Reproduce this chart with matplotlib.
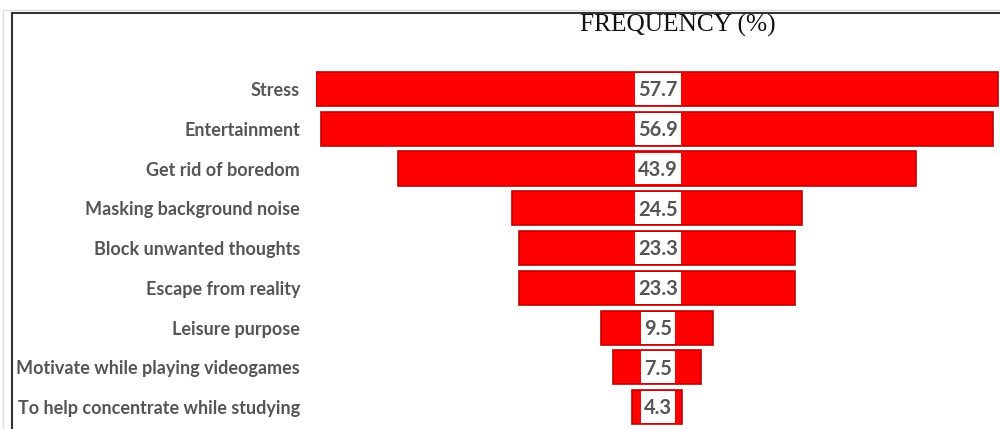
import matplotlib.pyplot as plt
from matplotlib.patches import Rectangle
from matplotlib.lines import Line2D

reasons = ["Stress", "Entertainment", "Get rid of boredom", "Masking background noise",
           "Block unwanted thoughts", "Escape from reality", "Leisure purpose",
           "Motivate while playing videogames", "To help concentrate while studying"]
freq = [57.7, 56.9, 43.9, 24.5, 23.3, 23.3, 9.5, 7.5, 4.3]

fig = plt.figure(figsize=(10, 4.29), dpi=100)
ax = fig.add_axes([0.316, 0, 0.684, 1])

ypos = list(range(len(freq)))
bar_h = 0.86
# funnel: each bar centred on zero
ax.barh(ypos, freq, left=[-v / 2 for v in freq], height=bar_h,
        color="#ff0000", edgecolor="#c00000", linewidth=1.2, zorder=2)

ax.set_xlim(-28.85, 29.02)
ax.set_ylim(8.55, -2.24)

ax.set_yticks(ypos)
ax.set_yticklabels(reasons, fontsize=13, fontweight="bold", color="#555555", family="Lato")
ax.tick_params(axis="y", length=0, pad=11.5)
ax.set_xticks([])
for s in ax.spines.values():
    s.set_visible(False)

# value labels sitting in a white strip across the bar
texts = []
for y, v in zip(ypos, freq):
    t = ax.text(0.1, y + 0.03, f"{v:.1f}", ha="center", va="center", fontsize=14.5,
                fontweight="bold", color="#555555", family="Lato", zorder=4)
    texts.append(t)
fig.canvas.draw()
r = fig.canvas.get_renderer()
inv = ax.transData.inverted()
for y, v, t in zip(ypos, freq, texts):
    bb = t.get_window_extent(r)
    x0 = inv.transform((bb.x0 - 3, 0))[0]
    x1 = inv.transform((bb.x1 + 3, 0))[0]
    x0 = max(x0, -v / 2 + 0.12)
    x1 = min(x1, v / 2 - 0.12)
    ax.add_patch(Rectangle((x0, y - bar_h / 2 + 0.03), x1 - x0, bar_h - 0.06,
                           facecolor="white", edgecolor="none", zorder=3))

fig.text(0.678, 1 - 25 / 429, "FREQUENCY (%)", ha="center", va="center",
         fontsize=18.3, family="Liberation Serif", color="#111111")

# outer frame lines
fig.add_artist(Line2D([0.012, 1], [1 - 13 / 429] * 2, color="#333333", lw=1.5))
fig.add_artist(Line2D([0.012, 0.012], [0, 1 - 13 / 429], color="#333333", lw=1.5))
fig.add_artist(Line2D([0.003, 1], [1 - 10 / 429] * 2, color="#dddddd", lw=1))
fig.add_artist(Line2D([0.003, 0.003], [0, 1 - 10 / 429], color="#dddddd", lw=1))

fig.savefig("out.png", dpi=100)
